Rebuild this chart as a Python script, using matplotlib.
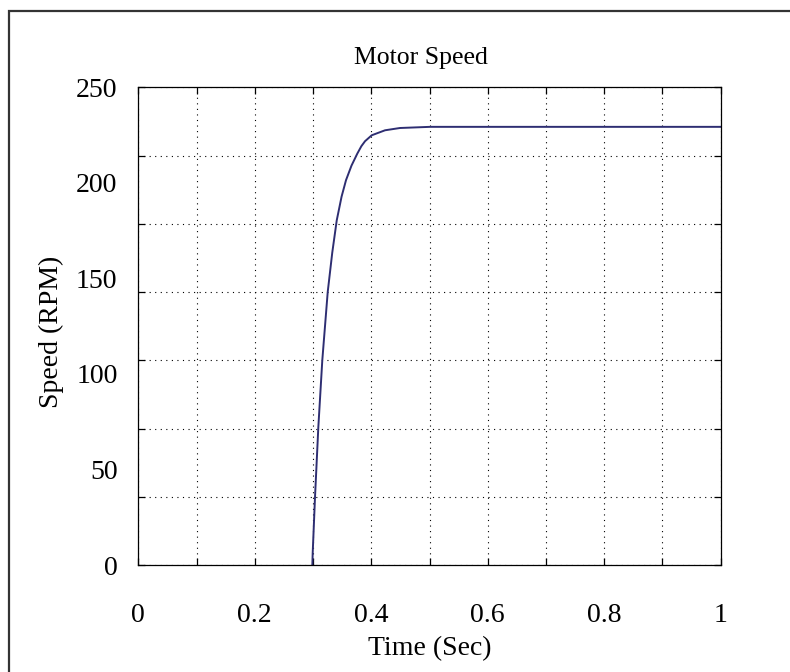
import numpy as np
import matplotlib.pyplot as plt
from matplotlib.patches import Rectangle

# curve (time in s, speed in RPM)
time_s = [0.2988, 0.2994, 0.3034, 0.3091, 0.3159, 0.3252, 0.3330, 0.3407,
          0.3490, 0.3566, 0.3660, 0.3760, 0.3830, 0.3893, 0.4008, 0.4236,
          0.4493, 0.5009, 1.0]
speed_rpm = [0.0, 6.3, 35.7, 72.3, 107.2, 142.9, 163.5, 180.4,
             192.8, 201.4, 209.0, 215.3, 219.2, 221.8, 224.9, 227.5,
             228.7, 229.3, 229.3]

x_labels = [0, 0.2, 0.4, 0.6, 0.8, 1]
y_labels = [0, 50, 100, 150, 200, 250]
x_grid = np.arange(0, 1.01, 0.1)
y_grid = np.linspace(0, 250, 8)   # the picture has 7 grid rows

plt.rcParams['font.family'] = ['Liberation Serif', 'DejaVu Serif']
plt.rcParams['font.size'] = 20

fig = plt.figure(figsize=(7.9, 6.72), dpi=100)
ax = fig.add_axes([0.1751, 0.1592, 0.7372, 0.7109])

# outer frame (right and bottom edges fall outside the picture)
fig.patches.append(Rectangle((9 / 790, -0.1), 1.2, 1.1 - 11 / 672,
                             transform=fig.transFigure, fill=False,
                             lw=1.6, ec='#333333'))

ax.plot(time_s, speed_rpm, color='#2e2e72', lw=1.4)

ax.set_xlim(0, 1)
ax.set_ylim(0, 250)

# grid positions carry the tick marks, label positions carry the text
ax.set_xticks(x_grid)
ax.set_yticks(y_grid)
ax.set_xticks(x_labels, minor=True)
ax.set_yticks(y_labels, minor=True)
ax.set_xticklabels([str(v) for v in x_labels], minor=True)
ax.set_yticklabels([str(v) for v in y_labels], minor=True)
ax.xaxis.remove_overlapping_locs = False
ax.yaxis.remove_overlapping_locs = False

ax.tick_params(which='major', direction='in', length=5, width=0.9,
               top=True, right=True, labelbottom=False, labelleft=False)
ax.tick_params(which='minor', length=0, top=False, right=False)
ax.tick_params(axis='x', which='minor', pad=27)
ax.tick_params(axis='y', which='minor', pad=15)

ax.grid(True, which='major', color='black', lw=0.8, linestyle=(0, (1, 4)))

for sp in ax.spines.values():
    sp.set_linewidth(0.9)

ax.set_title('Motor Speed', x=0.486, pad=17, fontsize=18.5)
ax.set_xlabel('Time (Sec)', va='center')
ax.xaxis.set_label_coords(0.5, -0.174)
ax.set_ylabel('Speed (RPM)', va='center')
ax.yaxis.set_label_coords(-0.150, 0.488)

fig.savefig('out.png', dpi=100)
